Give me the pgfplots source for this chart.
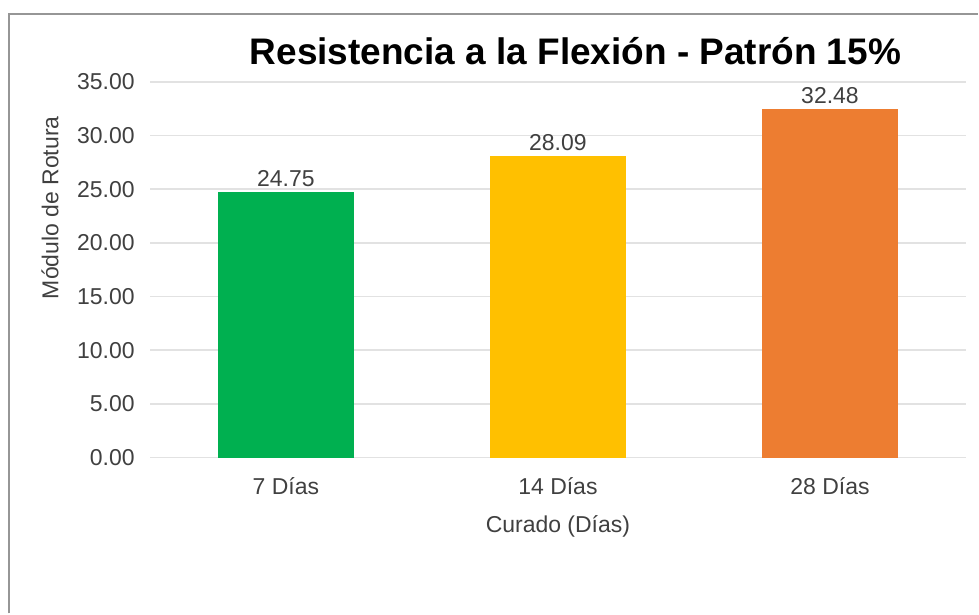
\documentclass[border=0pt]{standalone}
\usepackage{fontspec}
\setmainfont{Liberation Sans}
\usepackage{pgfplots}
\pgfplotsset{compat=1.18}
\definecolor{cgreen}{RGB}{0,176,80}
\definecolor{cyellow}{RGB}{255,192,0}
\definecolor{corange}{RGB}{237,125,49}
\definecolor{gridc}{RGB}{226,226,226}
\definecolor{txt}{RGB}{64,64,64}
\definecolor{framec}{RGB}{150,150,150}
\newcommand\lbl{\fontsize{23}{27}\selectfont}
\newcommand\ttl{\fontsize{37}{43}\selectfont\bfseries}
\begin{document}
\begin{tikzpicture}
\path (0pt,0pt) rectangle (979pt,614pt);
\draw[framec, line width=2pt] (9pt,0pt) -- (9pt,600pt) -- (979pt,600pt);
\node[font=\ttl, text=black] at (576pt,563pt) {Resistencia a la Flexión - Patrón 15\%};
\begin{axis}[
  at={(150pt,156pt)}, anchor=south west,
  width=817pt, height=376pt, scale only axis,
  xmin=-0.5, xmax=2.5, ymin=0, ymax=35,
  xtick={0,1,2}, xticklabels={7 Días,14 Días,28 Días},
  ytick={0,5,...,35},
  ymajorgrids, grid style={gridc, line width=1.5pt},
  axis line style={draw=none},
  major tick length=0pt, tick style={draw=none},
  /pgf/number format/assume math mode=true,
  yticklabel={\pgfmathprintnumber[fixed,fixed zerofill,precision=2]{\tick}},
  yticklabel style={font=\lbl, text=txt, inner sep=0pt, anchor=east, xshift=-15pt},
  xticklabel style={font=\lbl, text=txt, inner sep=0pt, anchor=center, yshift=-29pt},
  xlabel={Curado (Días)},
  xlabel style={font=\lbl, text=txt, at={(axis description cs:0.5,0)}, anchor=center, yshift=-69pt},
  ylabel={Módulo de Rotura},
  ylabel style={font=\lbl, text=txt, at={(axis description cs:-0.1224,0.665)}, anchor=center},
  ybar, bar width=136pt,
  nodes near coords,
  nodes near coords style={font=\lbl, text=txt, inner sep=5pt, /pgf/number format/.cd, fixed, fixed zerofill, precision=2, assume math mode=true},
]
\addplot[fill=cgreen, draw=none, bar shift=0pt] coordinates {(0,24.75)};
\addplot[fill=cyellow, draw=none, bar shift=0pt] coordinates {(1,28.09)};
\addplot[fill=corange, draw=none, bar shift=0pt] coordinates {(2,32.48)};
\end{axis}
\end{tikzpicture}
\end{document}
